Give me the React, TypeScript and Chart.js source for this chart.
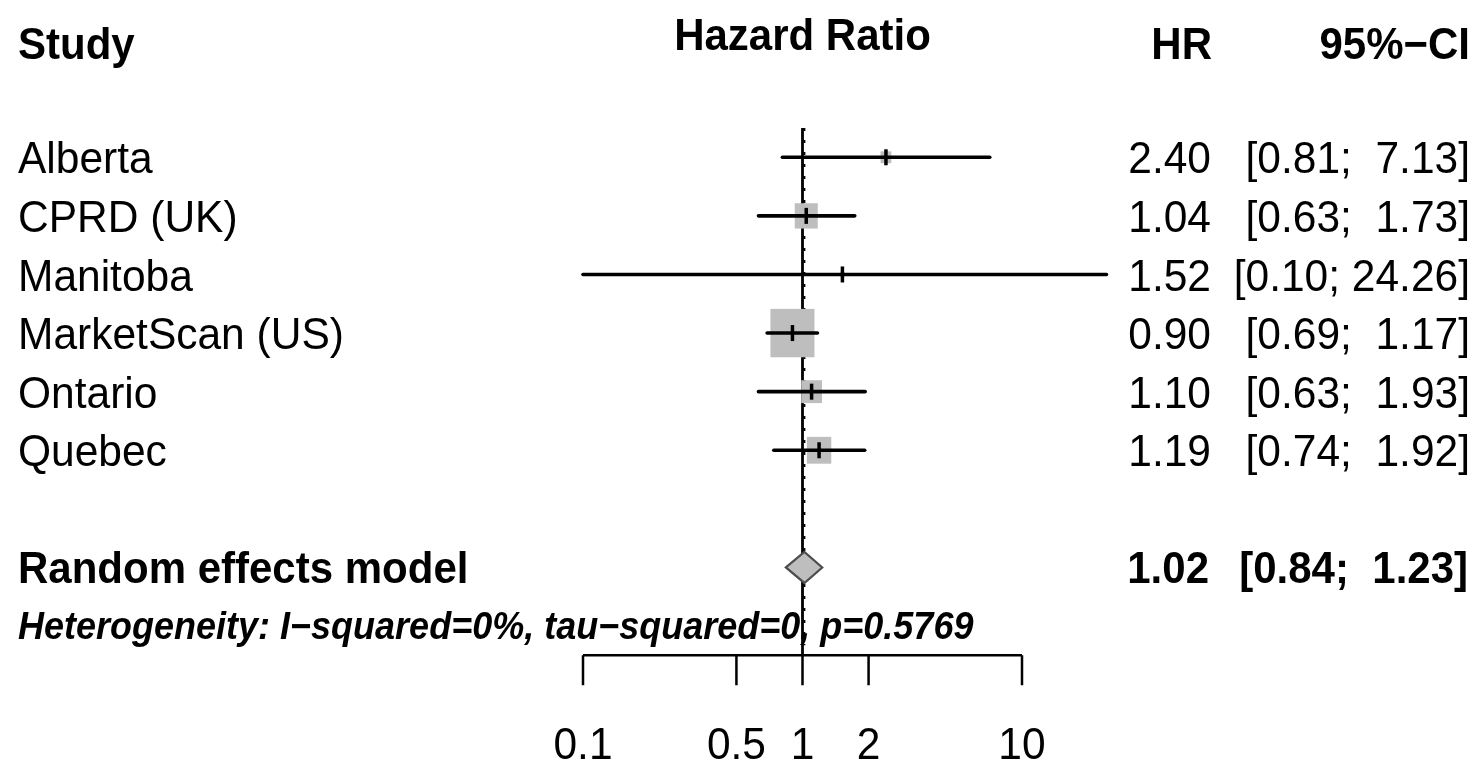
import React, { useEffect, useRef } from "react";
import { Chart, registerables } from "chart.js";

Chart.register(...registerables);

// ---------- data ----------
const studies = ["Alberta", "CPRD (UK)", "Manitoba", "MarketScan (US)", "Ontario", "Quebec"];
const hr = [2.4, 1.04, 1.52, 0.9, 1.1, 1.19];
const lower = [0.81, 0.63, 0.1, 0.69, 0.63, 0.74];
const upper = [7.13, 1.73, 24.26, 1.17, 1.93, 1.92];
const weights = [3.2, 14.6, 0.5, 53.4, 11.9, 16.4];

const pooledLabel = "Random effects model";
const pooledHR = 1.02;
const pooledLower = 0.84;
const pooledUpper = 1.23;
const heterogeneityText = "Heterogeneity: I\u2212squared=0%, tau\u2212squared=0, p=0.5769";

const tickValues = [0.1, 0.5, 1, 2, 10];
const tickLabels = ["0.1", "0.5", "1", "2", "10"];
const headerStudy = "Study";
const headerEffect = "Hazard Ratio";
const headerHR = "HR";
const headerCI = "95%\u2212CI";

// ---------- layout constants ----------
const W = 1481;
const H = 764;
const FONT = '"Liberation Sans", Arial, Helvetica, sans-serif';
const VSCALE = 1.06;
const CAP = 0.716;
const POOLED_ROW = 7;
const HET_ROW = 7.98;
const AXIS_ROW = 8.5;

const fmt = (v: number) => v.toFixed(2);
const ciText = (lo: number, up: number) => `[${fmt(lo)}; ${fmt(up).padStart(5, " ")}]`;

function drawText(
  ctx: CanvasRenderingContext2D,
  text: string,
  x: number,
  baseline: number,
  font: string,
  align: CanvasTextAlign
) {
  ctx.save();
  ctx.font = font;
  ctx.textAlign = align;
  ctx.textBaseline = "alphabetic";
  ctx.fillStyle = "#000";
  ctx.translate(x, baseline);
  ctx.scale(1, VSCALE);
  ctx.fillText(text, 0, 0);
  ctx.restore();
}

const forestPlugin = {
  id: "forest",
  beforeDatasetsDraw(chart: any) {
    const { ctx } = chart;
    const xs = chart.scales.x;
    const ys = chart.scales.y;
    const line = (x1: number, y1: number, x2: number, y2: number) => {
      ctx.beginPath();
      ctx.moveTo(x1, y1);
      ctx.lineTo(x2, y2);
      ctx.stroke();
    };
    ctx.save();
    const top = ys.getPixelForValue(-0.5);
    const bottom = ys.getPixelForValue(AXIS_ROW);
    // reference line at 1
    ctx.strokeStyle = "#000";
    ctx.lineWidth = 2.8;
    const x1 = xs.getPixelForValue(1);
    line(x1, top, x1, bottom);
    // random-effects dashed line
    ctx.lineWidth = 2;
    ctx.setLineDash([3, 9]);
    const xr = xs.getPixelForValue(pooledHR);
    line(xr, top, xr, bottom - 10);
    ctx.setLineDash([]);

    // boxes
    const maxW = Math.max(...weights);
    ctx.fillStyle = "#BEBEBE";
    studies.forEach((_, i) => {
      const side = 44 * Math.sqrt(weights[i] / maxW);
      const cx = xs.getPixelForValue(hr[i]);
      const cy = ys.getPixelForValue(i);
      ctx.fillRect(cx - side / 2, cy - (side * 1.1) / 2, side, side * 1.1);
    });

    // confidence intervals
    ctx.strokeStyle = "#000";
    ctx.lineWidth = 3.6;
    ctx.lineCap = "round";
    studies.forEach((_, i) => {
      const cy = ys.getPixelForValue(i);
      line(xs.getPixelForValue(lower[i]), cy, xs.getPixelForValue(upper[i]), cy);
    });
    ctx.lineCap = "butt";

    // pooled diamond
    const dy = ys.getPixelForValue(POOLED_ROW);
    const dl = xs.getPixelForValue(pooledLower);
    const dr = xs.getPixelForValue(pooledUpper);
    const dc = xs.getPixelForValue(pooledHR);
    ctx.beginPath();
    ctx.moveTo(dl, dy);
    ctx.lineTo(dc, dy - 15.5);
    ctx.lineTo(dr, dy);
    ctx.lineTo(dc, dy + 15.5);
    ctx.closePath();
    ctx.fillStyle = "#BEBEBE";
    ctx.fill();
    ctx.strokeStyle = "#4d4d4d";
    ctx.lineWidth = 2.2;
    ctx.stroke();
    ctx.restore();
  },
  afterDraw(chart: any) {
    const { ctx } = chart;
    const xs = chart.scales.x;
    const ys = chart.scales.y;
    const reg = `42.5px ${FONT}`;
    const bold = `bold 42px ${FONT}`;
    const base = (r: number, size: number) => ys.getPixelForValue(r) + (CAP * size * VSCALE) / 2;

    // headers
    drawText(ctx, headerStudy, 18, base(-1.95, 42), bold, "left");
    drawText(ctx, headerEffect, xs.getPixelForValue(1), base(-2.1, 42), bold, "center");
    drawText(ctx, headerHR, 1212, base(-1.95, 42), bold, "right");
    drawText(ctx, headerCI, 1470, base(-1.95, 42), bold, "right");

    // study rows
    studies.forEach((s, i) => {
      const b = base(i, 42.5);
      drawText(ctx, s, 18, b, reg, "left");
      drawText(ctx, fmt(hr[i]), 1211, b, reg, "right");
      drawText(ctx, ciText(lower[i], upper[i]), 1470, b, reg, "right");
    });

    // pooled row
    const pb = base(POOLED_ROW, 42);
    drawText(ctx, pooledLabel, 18, pb, bold, "left");
    drawText(ctx, fmt(pooledHR), 1209, pb, bold, "right");
    drawText(ctx, ciText(pooledLower, pooledUpper), 1468, pb, bold, "right");

    // heterogeneity
    drawText(ctx, heterogeneityText, 18, base(HET_ROW, 36), `italic bold 36px ${FONT}`, "left");

    // x axis
    const ay = ys.getPixelForValue(AXIS_ROW);
    ctx.save();
    ctx.strokeStyle = "#000";
    ctx.lineWidth = 2.5;
    ctx.beginPath();
    ctx.moveTo(xs.getPixelForValue(tickValues[0]), ay);
    ctx.lineTo(xs.getPixelForValue(tickValues[tickValues.length - 1]), ay);
    tickValues.forEach((v) => {
      const px = xs.getPixelForValue(v);
      ctx.moveTo(px, ay);
      ctx.lineTo(px, ay + 30);
    });
    ctx.stroke();
    ctx.restore();
    tickValues.forEach((v, i) => {
      drawText(ctx, tickLabels[i], xs.getPixelForValue(v), ay + 104, reg, "center");
    });
  },
};

export default function App() {
  const ref = useRef<HTMLCanvasElement>(null);
  useEffect(() => {
    if (!ref.current) return;
    const chart = new Chart(ref.current, {
      type: "scatter",
      data: {
        datasets: [
          {
            data: studies.map((_, i) => ({ x: hr[i], y: i })),
            pointStyle: "line",
            rotation: 90,
            pointRadius: 8,
            pointHoverRadius: 8,
            borderWidth: 3.5,
            borderColor: "#000",
            backgroundColor: "#000",
          },
        ],
      },
      options: {
        responsive: false,
        animation: false,
        events: [],
        layout: { autoPadding: false, padding: { left: 583, right: W - 1022, top: 0, bottom: 0 } },
        plugins: { legend: { display: false }, tooltip: { enabled: false } },
        scales: {
          x: { type: "logarithmic", min: 0.1, max: 10, bounds: "data", display: false },
          y: { type: "linear", min: -2.684, max: 10.354, reverse: true, bounds: "data", display: false },
        },
      },
      plugins: [forestPlugin],
    });
    return () => chart.destroy();
  }, []);
  return (
    <div style={{ position: "fixed", left: 0, top: 0, width: W, height: H, background: "#fff" }}>
      <canvas ref={ref} width={W} height={H} style={{ display: "block" }} />
    </div>
  );
}
